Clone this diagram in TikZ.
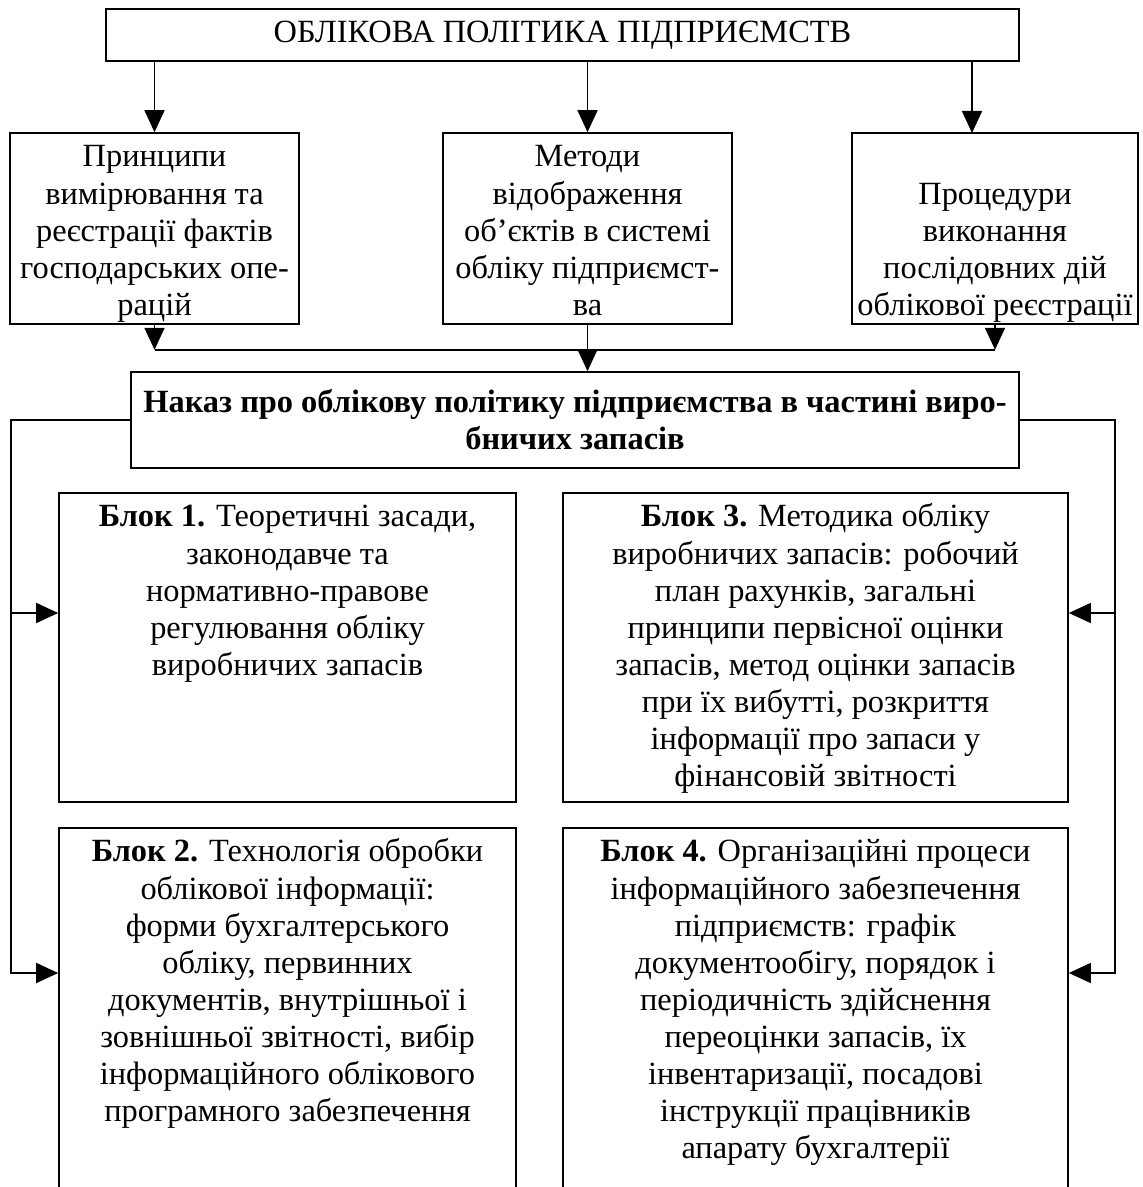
\documentclass[tikz,border=0pt]{standalone}
\usepackage{fontspec}
\setmainfont{Liberation Serif}
\usetikzlibrary{arrows.meta}

% text of a box, set from the top
\newcommand{\boxtxt}[3]{\parbox[c][#2][t]{#1}{\centering\vspace*{4pt}\strut#3}}

\begin{document}
\begin{tikzpicture}[x=0.5pt,y=-0.5pt,font=\fontsize{16.2}{18.55}\selectfont,
		box/.style={draw,line width=0.8pt,inner sep=0pt,align=center},
		arr/.style={-{Triangle[length=11pt,width=10pt]},line width=0.8pt},
		ln/.style={line width=0.8pt}]
				\useasboundingbox (0,0) rectangle (1142,1187);
				\clip (0,0) rectangle (1142,1187);
				
				% top
				\node[box,minimum width=456.5pt,minimum height=26pt] (top) at (562.5,35)
				{ОБЛІКОВА ПОЛІТИКА ПІДПРИЄМСТВ};
				
				% second row
				\node[box] (A) at (154.5,228.5) {\boxtxt{144.5pt}{95.5pt}{Принципи\\вимірювання та\\реєстрації фактів\\господарських опе-\\рацій}};
				\node[box] (B) at (587.5,228.5) {\boxtxt{144.5pt}{95.5pt}{Методи\\відображення\\об’єктів в системі\\обліку підприємст-\\ва}};
				\node[box] (C) at (995,228.5) {\boxtxt{143pt}{95.5pt}{\\Процедури\\виконання\\послідовних дій\\облікової реєстрації}};
				
				\coordinate (cIn) at (972,133);
				\foreach \x in {A,B}{
					\draw[arr] (\x.north |- top.south) -- (\x.north);
				}
				\draw[arr] (cIn |- top.south) -- (cIn);
				
				% order
				\node[box,minimum width=444pt,minimum height=48pt] (nakaz) at (575,420)
				{\textbf{Наказ про облікову політику підприємства в частині виро-}\\\textbf{бничих запасів}};
				
				\draw[arr] (A.south) -- ++(0,25) coordinate (jA);
				\draw[arr] (C.south) -- ++(0,25) coordinate (jC);
				\draw[ln] (jA) -- (jC);
				\draw[arr] (B.south) -- (B.south |- nakaz.north);
				
				% blocks
				\node[box] (b1) at (287.5,647.5) {\boxtxt{228.5pt}{154.5pt}{\textbf{Блок 1.} Теоретичні засади,\\законодавче та\\нормативно-правове\\регулювання обліку\\виробничих запасів}};
				\node[box] (b3) at (815.5,647.5) {\boxtxt{252.5pt}{154.5pt}{\textbf{Блок 3.} Методика обліку\\виробничих запасів: робочий\\план рахунків, загальні\\принципи первісної оцінки\\запасів, метод оцінки запасів\\при їх вибутті, розкриття\\інформації про запаси у\\фінансовій звітності}};
				\node[box] (b2) at (287.5,1020.5) {\boxtxt{228.5pt}{192.5pt}{\textbf{Блок 2.} Технологія обробки\\облікової інформації:\\форми бухгалтерського\\обліку, первинних\\документів, внутрішньої і\\зовнішньої звітності, вибір\\інформаційного облікового\\програмного забезпечення}};
				\node[box] (b4) at (815.5,1020.5) {\boxtxt{252.5pt}{192.5pt}{\textbf{Блок 4.} Організаційні процеси\\інформаційного забезпечення\\підприємств: графік\\документообігу, порядок і\\періодичність здійснення\\переоцінки запасів, їх\\інвентаризації, посадові\\інструкції працівників\\апарату бухгалтерії}};
				
				% side lines
				\coordinate (l1) at (11,613);
				\coordinate (l2) at (11,973);
				\coordinate (r1) at (1115,613);
				\coordinate (r2) at (1115,973);
				\draw[arr] (nakaz.west) -| (l2) -- (l2 -| b2.west);
				\draw[arr] (nakaz.east) -| (r2) -- (r2 -| b4.east);
				\draw[arr] (l1) -- (l1 -| b1.west);
				\draw[arr] (r1) -- (r1 -| b3.east);
\end{tikzpicture}
\end{document}
